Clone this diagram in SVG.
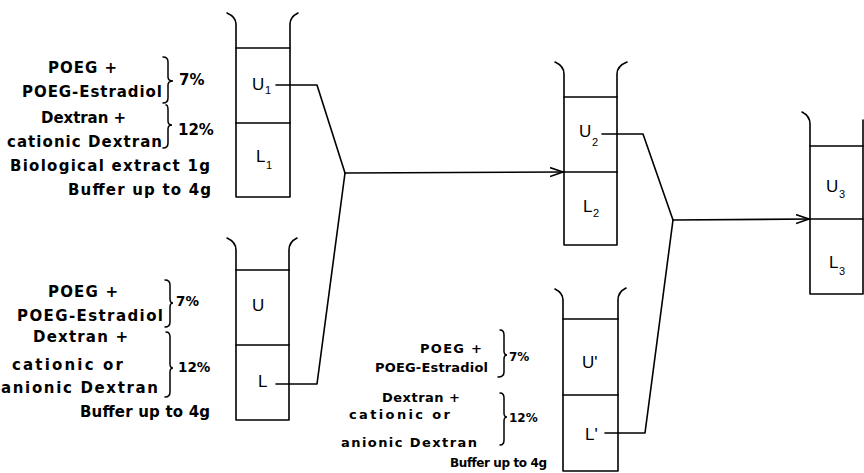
<svg xmlns="http://www.w3.org/2000/svg" width="864" height="473" viewBox="0 0 864 473">
<style>
  .bg{fill:#fff}
  .ln{fill:none;stroke:#000;stroke-width:1.6;stroke-linejoin:round;stroke-linecap:round}
  .br{fill:none;stroke:#000;stroke-width:1.5;stroke-linecap:round}
  .t{font-family:"DejaVu Sans","Liberation Sans",sans-serif;font-weight:bold;font-size:15px;fill:#000}
  .t3{font-size:13px}
  .p{font-size:15px}
  .p2{font-size:13.5px}
  .p3{font-size:12px}
  .lb{font-family:"Liberation Sans",Arial,sans-serif;font-size:17px;fill:#000}
  .sb{font-size:11px}
</style>
<defs>
  <marker id="arr" markerUnits="userSpaceOnUse" markerWidth="16" markerHeight="12" refX="13" refY="5" orient="auto">
    <path d="M0,0.5 L13,5 L0,9.5" fill="none" stroke="#000" stroke-width="1.6"/>
  </marker>
</defs>
<rect class="bg" x="0" y="0" width="864" height="473"/>

<g id="tube1">
  <path class="ln" d="M227,13 Q236,17 236,24 L236,197 L290,197 L290,24 Q290,17 298,13"/>
  <path class="ln" d="M236,48 L290,48 M236,123 L290,123"/>
  <text class="lb" x="252" y="90">U</text>
  <text class="lb sb" x="265" y="94">1</text>
  <text class="lb" x="256" y="162">L</text>
  <text class="lb sb" x="266" y="169">1</text>
</g>

<g id="tube2">
  <path class="ln" d="M227,238 Q236,242 236,250 L236,420 L289,420 L289,250 Q289,242 297,238"/>
  <path class="ln" d="M236,270 L289,270 M236,345 L289,345"/>
  <text class="lb" x="252" y="311">U</text>
  <text class="lb" x="258" y="387">L</text>
</g>

<g id="tube3">
  <path class="ln" d="M555,62 Q564,66 564,74 L564,245 L617,245 L617,74 Q617,66 627,62"/>
  <path class="ln" d="M564,97 L617,97 M564,172 L617,172"/>
  <text class="lb" x="579" y="137">U</text>
  <text class="lb sb" x="592" y="146">2</text>
  <text class="lb" x="583" y="212">L</text>
  <text class="lb sb" x="593" y="217">2</text>
</g>

<g id="tube4">
  <path class="ln" d="M555,289 Q563,293 563,300 L563,471 L618,471 L618,300 Q618,292 626,288"/>
  <path class="ln" d="M563,319 L618,319 M563,395 L618,395"/>
  <text class="lb" x="582" y="368">U'</text>
  <text class="lb" x="585" y="440">L'</text>
</g>

<g id="tube5">
  <path class="ln" d="M802,112 Q810,116 810,124 L810,294 L863,294 L863,120"/>
  <path class="ln" d="M810,146 L863,146 M810,219 L863,219"/>
  <text class="lb" x="826" y="192">U</text>
  <text class="lb sb" x="839" y="198">3</text>
  <text class="lb" x="829" y="268">L</text>
  <text class="lb sb" x="839" y="275">3</text>
</g>

<g id="mix1">
  <text class="t" x="48" y="73" textLength="69">POEG +</text>
  <text class="t" x="22" y="97" textLength="140">POEG-Estradiol</text>
  <text class="t" x="41" y="123" textLength="85">Dextran +</text>
  <text class="t" x="7" y="147" textLength="155">cationic Dextran</text>
  <text class="t" x="10" y="171" textLength="200">Biological extract 1g</text>
  <text class="t" x="68" y="195" textLength="143">Buffer up to 4g</text>
  <text class="t p" x="179" y="85">7%</text>
  <text class="t p" x="178" y="135">12%</text>
  <path class="br" d="M163,57 Q168,57 168,62 L168,77 Q168,81 173,81 Q168,81 168,85 L168,98 Q168,103 163,103"/>
  <path class="br" d="M166,105 Q168,105 168,110 L168,121 Q168,125 172,125 Q168,125 168,129 L168,143 Q168,148 163,148"/>
</g>

<g id="mix2">
  <text class="t" x="48" y="297" textLength="70">POEG +</text>
  <text class="t" x="17" y="321" textLength="146">POEG-Estradiol</text>
  <text class="t" x="33" y="342" textLength="95">Dextran +</text>
  <text class="t" x="12" y="370" textLength="111">cationic or</text>
  <text class="t" x="1" y="393" textLength="157">anionic Dextran</text>
  <text class="t" x="80" y="417" textLength="130">Buffer up to 4g</text>
  <text class="t p2" x="176" y="306">7%</text>
  <text class="t p2" x="178" y="372">12%</text>
  <path class="br" d="M165,280 Q170,280 170,285 L170,299 Q170,303 173,303 Q170,303 170,307 L170,322 Q170,327 165,327"/>
  <path class="br" d="M166,332 Q170,332 170,337 L170,364 Q170,368 173,368 Q170,368 170,372 L170,392 Q170,397 165,397"/>
</g>

<g id="mix3">
  <text class="t t3" x="420" y="353" textLength="62">POEG +</text>
  <text class="t t3" x="375" y="372" textLength="113">POEG-Estradiol</text>
  <text class="t t3" x="382" y="402" textLength="78">Dextran +</text>
  <text class="t t3" x="349" y="419" textLength="101">cationic or</text>
  <text class="t t3" x="341" y="447" textLength="136">anionic Dextran</text>
  <text class="t p3" x="450" y="467" textLength="97">Buffer up to 4g</text>
  <text class="t p3" x="509" y="361">7%</text>
  <text class="t p3" x="509" y="422">12%</text>
  <path class="br" d="M500,330 Q504,330 504,335 L504,351 Q504,355 507,355 Q504,355 504,359 L504,372 Q504,377 498,377"/>
  <path class="br" d="M500,393 Q504,393 504,398 L504,413 Q504,417 507,417 Q504,417 504,421 L504,440 Q504,445 500,445"/>
</g>

<g id="connectors">
  <path class="ln" d="M276,85 L317,85 L345,173"/>
  <path class="ln" d="M276,384 L317,384 L345,173"/>
  <path class="ln" d="M345,173 L563,172" marker-end="url(#arr)"/>
  <path class="ln" d="M602,134 L643,134 L673,220"/>
  <path class="ln" d="M605,433 L645,433 L673,220"/>
  <path class="ln" d="M673,220 L809,219" marker-end="url(#arr)"/>
</g>
</svg>
